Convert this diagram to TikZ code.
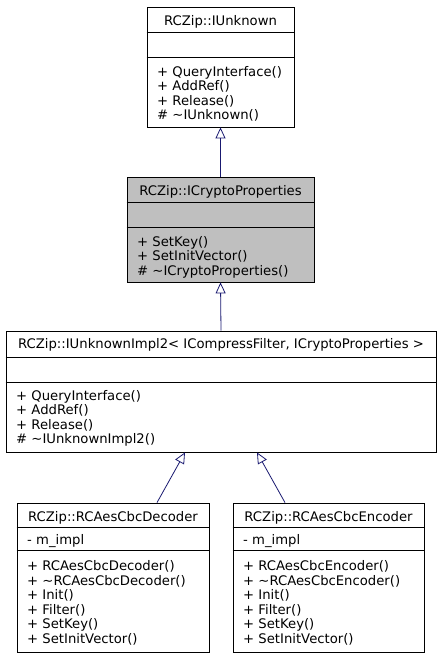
\documentclass[tikz,border=0pt]{standalone}
\usepackage{fontspec}
\setmainfont{DejaVu Sans}
\usetikzlibrary{arrows.meta,calc}
\definecolor{edgeblue}{HTML}{191970}
\definecolor{boxgray}{HTML}{BFBFBF}

\begin{document}
\begin{tikzpicture}[
  x=1pt, y=-1pt,
  font=\fontsize{13.2}{14.5}\selectfont,
  classbox/.style={draw=black, line width=0.8pt, fill=white, inner sep=0pt},
  divider/.style={draw=black, line width=0.8pt},
  ctitle/.style={inner sep=0pt, anchor=base},
  member/.style={inner sep=0pt, anchor=base west, align=left},
  inherit/.style={-{Triangle[open, length=11pt, width=10pt]}, draw=edgeblue, line width=0.8pt}
]
  \useasboundingbox (0,0) rectangle (440,659);

  % RCZip::IUnknown
  \node[classbox, minimum width=147pt, minimum height=120pt] (iunknown) at (220.5,67) {};
  \draw[divider] (iunknown.west |- 0,32) -- (iunknown.east |- 0,32);
  \draw[divider] (iunknown.west |- 0,57) -- (iunknown.east |- 0,57);
  \node[ctitle] (iunknownname) at (220.5,25) {RCZip::IUnknown};
  \node[member] (iunknownops) at (157,119.5) {+ QueryInterface()\\+ AddRef()\\+ Release()\\\# \textasciitilde IUnknown()};

  % RCZip::ICryptoProperties
  \node[classbox, fill=boxgray, minimum width=187pt, minimum height=105pt] (icrypto) at (220.5,229.5) {};
  \draw[divider] (icrypto.west |- 0,202) -- (icrypto.east |- 0,202);
  \draw[divider] (icrypto.west |- 0,227) -- (icrypto.east |- 0,227);
  \node[ctitle] (icryptoname) at (220.5,195) {RCZip::ICryptoProperties};
  \node[member] (icryptoops) at (137,275) {+ SetKey()\\+ SetInitVector()\\\# \textasciitilde ICryptoProperties()};

  % RCZip::IUnknownImpl2
  \node[classbox, minimum width=430pt, minimum height=121pt] (impl) at (221,391.5) {};
  \draw[divider] (impl.west |- 0,357) -- (impl.east |- 0,357);
  \draw[divider] (impl.west |- 0,382) -- (impl.east |- 0,382);
  \node[ctitle] (implname) at (221,348.5) {RCZip::IUnknownImpl2< ICompressFilter, ICryptoProperties >};
  \node[member] (implops) at (16,443.5) {+ QueryInterface()\\+ AddRef()\\+ Release()\\\# \textasciitilde IUnknownImpl2()};

  % RCZip::RCAesCbcDecoder
  \node[classbox, minimum width=192pt, minimum height=149pt] (decoder) at (113,577.5) {};
  \draw[divider] (decoder.west |- 0,527) -- (decoder.east |- 0,527);
  \draw[divider] (decoder.west |- 0,550) -- (decoder.east |- 0,550);
  \node[ctitle] (decodername) at (113,521.5) {RCZip::RCAesCbcDecoder};
  \node[member] (decoderattr) at (27,544) {- m\_impl};
  \node[member] (decoderops) at (27,643) {+ RCAesCbcDecoder()\\+ \textasciitilde RCAesCbcDecoder()\\+ Init()\\+ Filter()\\+ SetKey()\\+ SetInitVector()};

  % RCZip::RCAesCbcEncoder
  \node[classbox, minimum width=191pt, minimum height=149pt] (encoder) at (328.5,577.5) {};
  \draw[divider] (encoder.west |- 0,527) -- (encoder.east |- 0,527);
  \draw[divider] (encoder.west |- 0,550) -- (encoder.east |- 0,550);
  \node[ctitle] (encodername) at (328.5,521.5) {RCZip::RCAesCbcEncoder};
  \node[member] (encoderattr) at (243,544) {- m\_impl};
  \node[member] (encoderops) at (243,643) {+ RCAesCbcEncoder()\\+ \textasciitilde RCAesCbcEncoder()\\+ Init()\\+ Filter()\\+ SetKey()\\+ SetInitVector()};

  % inheritance
  \draw[inherit] (icrypto.north) -- (iunknown.south);
  \draw[inherit] (impl.north) -- (icrypto.south);
  \draw[inherit] ([xshift=44pt]decoder.north) -- ([xshift=-36pt]impl.south);
  \draw[inherit] ([xshift=-43.5pt]encoder.north) -- ([xshift=36pt]impl.south);
\end{tikzpicture}
\end{document}
